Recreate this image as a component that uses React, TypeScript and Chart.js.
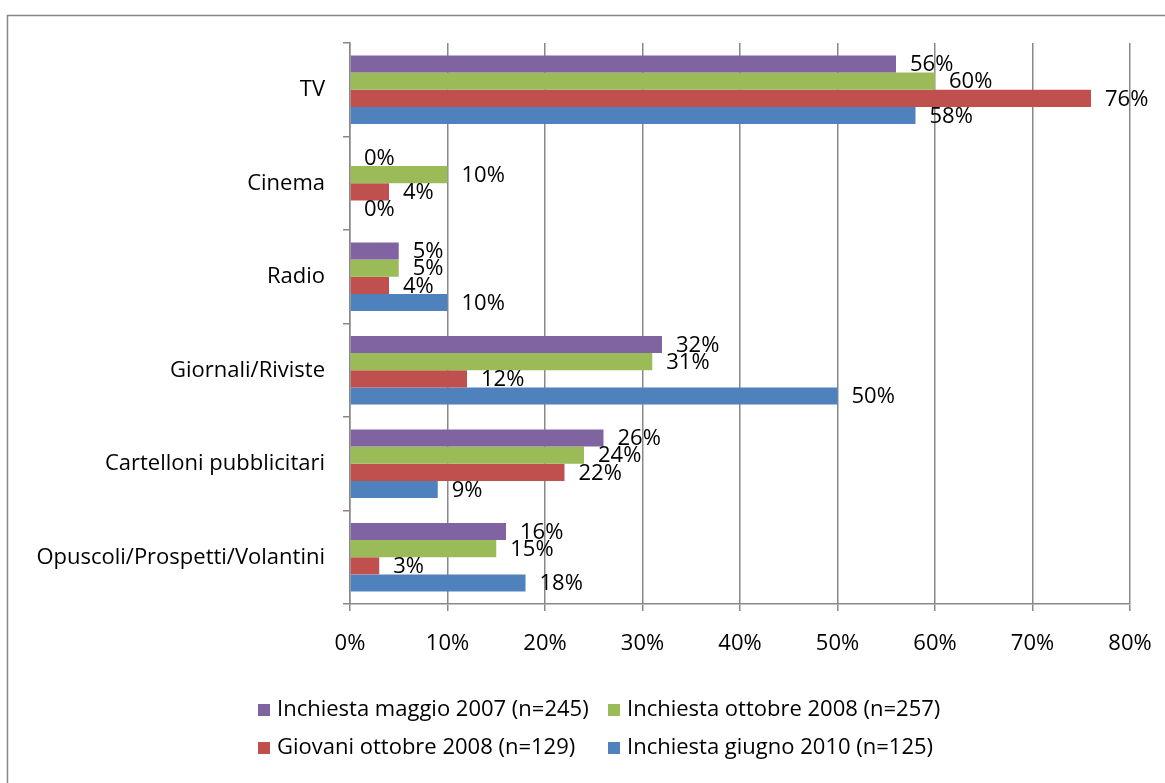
import React, { useEffect, useRef } from "react";
import { Chart, registerables } from "chart.js";

Chart.register(...registerables);

const categories = [
  "TV",
  "Cinema",
  "Radio",
  "Giornali/Riviste",
  "Cartelloni pubblicitari",
  "Opuscoli/Prospetti/Volantini",
];

const seriesNames = [
  "Inchiesta maggio 2007 (n=245)",
  "Inchiesta ottobre 2008 (n=257)",
  "Giovani ottobre 2008 (n=129)",
  "Inchiesta giugno 2010 (n=125)",
];

const maggio2007 = [56, 0, 5, 32, 26, 16];
const ottobre2008 = [60, 10, 5, 31, 24, 15];
const giovani2008 = [76, 4, 4, 12, 22, 3];
const giugno2010 = [58, 0, 10, 50, 9, 18];

const seriesColors = ["#8064A2", "#9BBB59", "#C0504D", "#4F81BD"];

const xTicks = [0, 10, 20, 30, 40, 50, 60, 70, 80];

const FONT = "'Open Sans', Lato, sans-serif";
const FS = 22;

export default function App() {
  const ref = useRef<HTMLCanvasElement | null>(null);

  useEffect(() => {
    const canvas = ref.current;
    if (!canvas) return;

    const bgPlugin = {
      id: "bgBorder",
      beforeDraw(chart: any) {
        const ctx = chart.ctx;
        ctx.save();
        ctx.fillStyle = "#ffffff";
        ctx.fillRect(0, 0, chart.width, chart.height);
        ctx.strokeStyle = "#868686";
        ctx.lineWidth = 1.5;
        ctx.strokeRect(7.5, 15.5, chart.width + 20, chart.height + 20);
        ctx.restore();
      },
    };

    const labelPlugin = {
      id: "valueLabels",
      afterDatasetsDraw(chart: any) {
        const ctx = chart.ctx;
        ctx.save();
        ctx.font = `${FS}px ${FONT}`;
        ctx.fillStyle = "#000000";
        ctx.textAlign = "left";
        ctx.textBaseline = "middle";
        chart.data.datasets.forEach((ds: any, di: number) => {
          const meta = chart.getDatasetMeta(di);
          meta.data.forEach((el: any, i: number) => {
            ctx.fillText(`${ds.data[i]}%`, el.x + 14, el.y + 1);
          });
        });
        ctx.restore();
      },
    };

    const legendPlugin = {
      id: "customLegend",
      afterDraw(chart: any) {
        const ctx = chart.ctx;
        const cols = [258, 608];
        const rows = [710, 748];
        ctx.save();
        ctx.font = `${FS}px ${FONT}`;
        ctx.textAlign = "left";
        ctx.textBaseline = "middle";
        chart.data.datasets.forEach((ds: any, i: number) => {
          const x = cols[i % 2];
          const y = rows[Math.floor(i / 2)];
          ctx.fillStyle = ds.backgroundColor;
          ctx.fillRect(x, y - 6, 12, 12);
          ctx.fillStyle = "#000000";
          ctx.fillText(ds.label, x + 19, y);
        });
        ctx.restore();
      },
    };

    const dataSeries = [maggio2007, ottobre2008, giovani2008, giugno2010];

    const chart = new Chart(canvas, {
      type: "bar",
      data: {
        labels: categories,
        datasets: dataSeries.map((d, i) => ({
          label: seriesNames[i],
          data: d,
          backgroundColor: seriesColors[i],
          borderWidth: 0,
          categoryPercentage: 0.733,
          barPercentage: 1,
        })),
      },
      options: {
        indexAxis: "y",
        responsive: false,
        animation: false,
        layout: { padding: { top: 43, right: 35, left: 0, bottom: 119 } },
        plugins: {
          legend: { display: false },
          tooltip: { enabled: false },
        },
        scales: {
          x: {
            min: 0,
            max: 80,
            afterBuildTicks(scale: any) {
              scale.ticks = xTicks.map((v) => ({ value: v }));
            },
            afterFit(scale: any) {
              scale.height = 60;
              scale.paddingLeft = 0;
              scale.paddingRight = 0;
            },
            ticks: {
              callback: (v: any) => `${v}%`,
              font: { family: FONT, size: FS },
              color: "#000000",
              padding: 20,
              maxRotation: 0,
            },
            grid: {
              color: "#888888",
              lineWidth: 1.5,
              tickLength: 7,
              drawTicks: true,
            },
            border: { display: true, color: "#888888", width: 1.5 },
          },
          y: {
            afterFit(scale: any) {
              scale.width = 350;
              scale.paddingTop = 0;
              scale.paddingBottom = 0;
            },
            ticks: {
              font: { family: FONT, size: FS },
              color: "#000000",
              padding: 18,
            },
            grid: {
              offset: true,
              drawOnChartArea: false,
              color: "#888888",
              lineWidth: 1.5,
              tickLength: 7,
              drawTicks: true,
            },
            border: { display: true, color: "#888888", width: 1.5 },
          },
        },
      },
      plugins: [bgPlugin, labelPlugin, legendPlugin],
    });

    return () => chart.destroy();
  }, []);

  return (
    <div style={{ position: "fixed", left: 0, top: 0, width: 1165, height: 783, background: "#fff" }}>
      <canvas ref={ref} width={1165} height={783} />
    </div>
  );
}
